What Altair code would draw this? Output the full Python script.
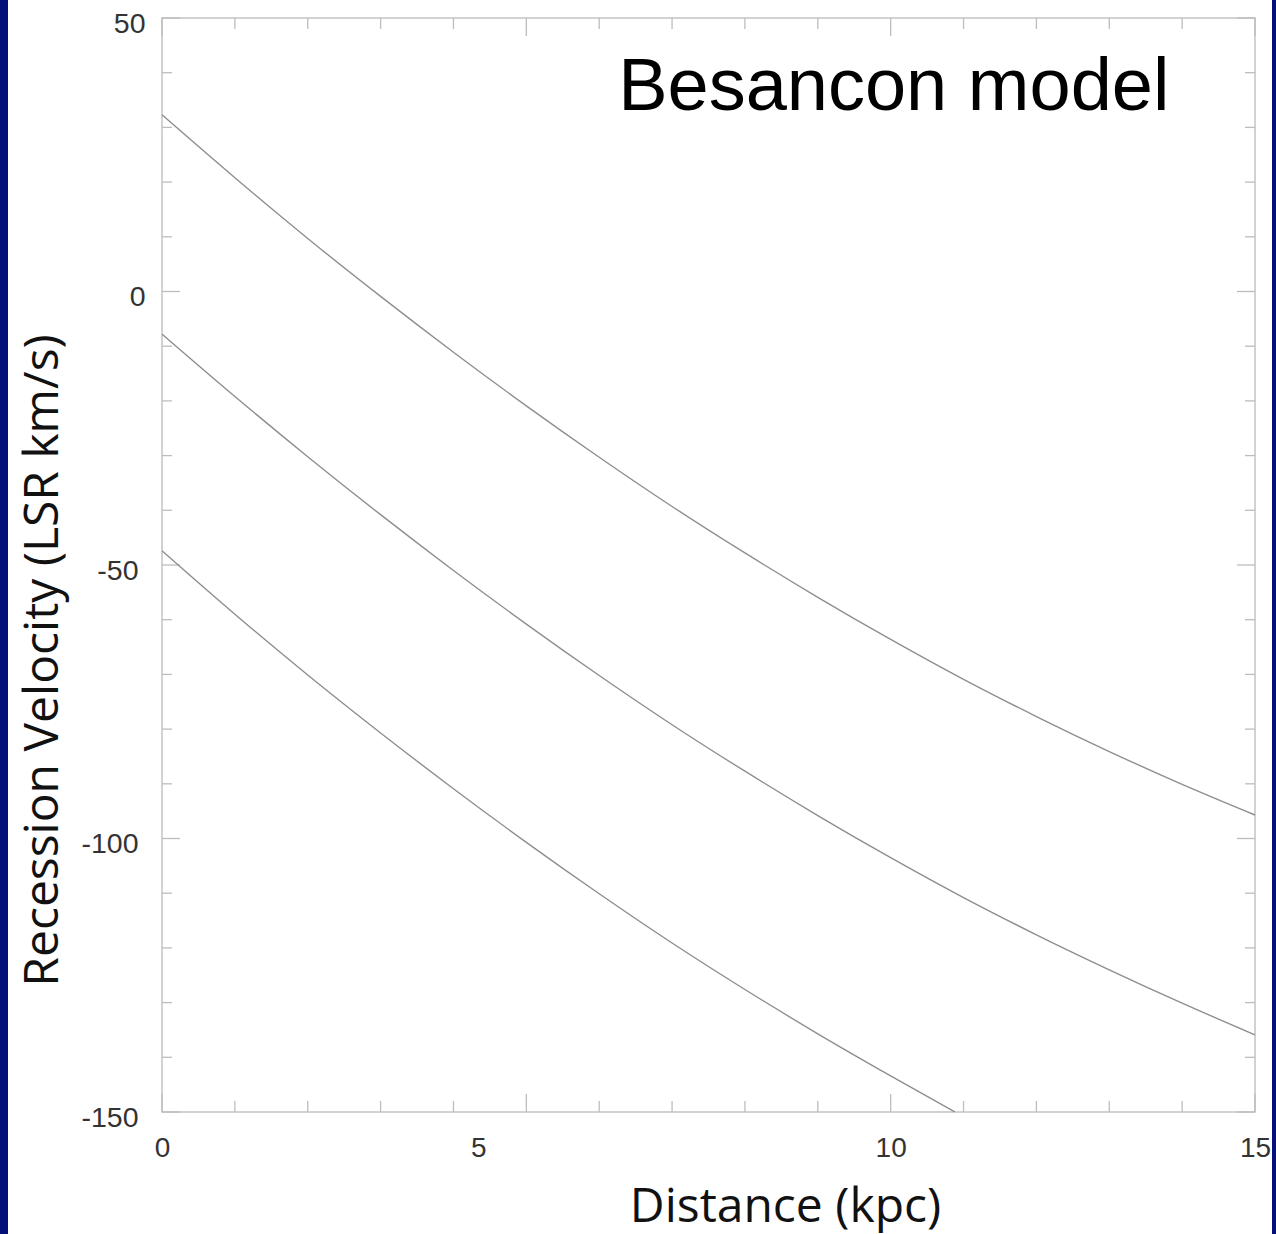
import altair as alt
import pandas as pd

# Distance along the line of sight (kpc) and model LSR velocities (km/s)
distance = [0, 1, 2, 3, 4, 5, 6, 7, 8, 9, 10, 11, 12, 13, 14, 15]
upper = [32.3, 20.8, 9.7, -0.9, -11.1, -20.9, -30.3, -39.3, -47.8, -55.9,
         -63.6, -70.9, -77.7, -84.1, -90.1, -95.7]
middle = [-7.8, -19.2, -30.2, -40.8, -51.0, -60.8, -70.2, -79.2, -87.7, -95.8,
          -103.5, -110.8, -117.6, -124.0, -130.1, -135.9]
lower_distance = [0, 1, 2, 3, 4, 5, 6, 7, 8, 9, 10, 10.88]
lower = [-47.4, -59.0, -70.1, -80.7, -90.9, -100.7, -110.1, -119.1, -127.6,
         -135.7, -143.4, -150.0]

# Axis ticks
x_major = [0, 5, 10, 15]
x_minor = [1, 2, 3, 4, 6, 7, 8, 9, 11, 12, 13, 14]
y_major = [-150, -100, -50, 0, 50]
y_minor = [-140, -130, -120, -110, -90, -80, -70, -60, -40, -30, -20, -10,
           10, 20, 30, 40]

# Annotation
note_text = ["Besancon model"]
note_x = [6.26]
note_y = [33.2]

W, H = 1093, 1094
NAVY = "#040f7a"
TICK = "#bdbdbd"
LINE = "#8e8e8e"

curves = pd.concat([
    pd.DataFrame({"d": distance, "v": upper, "s": "upper"}),
    pd.DataFrame({"d": distance, "v": middle, "s": "middle"}),
    pd.DataFrame({"d": lower_distance, "v": lower, "s": "lower"}),
])

xs = alt.Scale(domain=[0, 15], nice=False, zero=False)
ys = alt.Scale(domain=[-150, 50], nice=False, zero=False)

x_axis = alt.Axis(
    values=x_major, ticks=False, tickSize=0, domain=False, grid=False,
    labelExpr="'' + datum.value",
    labelFont="Liberation Sans", labelFontSize=28, labelColor="#333333",
    labelPadding=22, labelFlush=False, labelOverlap=False,
    labelOffset={"condition": {"test": "datum.value == 5", "value": -48}, "value": 0},
    title="Distance (kpc)", titleFont="Open Sans", titleFontSize=48,
    titleFontWeight="normal", titleColor="#111111",
    titleX=623, titleY=109, titleBaseline="alphabetic",
)
y_axis = alt.Axis(
    values=y_major, ticks=False, tickSize=0, domain=False, grid=False,
    labelExpr="'' + datum.value",
    labelFont="Liberation Sans", labelFontSize=28.5, labelColor="#333333",
    labelPadding={"condition": {"test": "datum.value < 0", "value": 24}, "value": 17},
    labelFlush=False, labelOverlap=False, labelOffset=5,
    labelAlign="right", labelBaseline="middle",
    title="Recession Velocity (LSR km/s)", titleFont="Open Sans",
    titleFontSize=48, titleFontWeight="normal", titleColor="#111111",
    titleAngle=270, titleX=-105, titleY=642, titleBaseline="alphabetic",
    titleAlign="center",
)

lines = alt.Chart(curves).mark_line(
    color=LINE, strokeWidth=1.4, interpolate="monotone"
).encode(
    x=alt.X("d:Q", scale=xs, axis=x_axis),
    y=alt.Y("v:Q", scale=ys, axis=y_axis),
    detail="s:N",
)


def xticks(values, length, top):
    df = pd.DataFrame({"t": values})
    y0, y1 = (0, length) if top else (H, H - length)
    return alt.Chart(df).mark_rule(color=TICK, strokeWidth=1.3).encode(
        x=alt.X("t:Q", scale=xs), y=alt.value(y0), y2=alt.value(y1)
    )


def yticks(values, length, right):
    df = pd.DataFrame({"t": values})
    x0, x1 = (W, W - length) if right else (0, length)
    return alt.Chart(df).mark_rule(color=TICK, strokeWidth=1.3).encode(
        y=alt.Y("t:Q", scale=ys), x=alt.value(x0), x2=alt.value(x1)
    )


tick_layers = [
    xticks(x_minor, 11, False), xticks(x_major, 18, False),
    xticks(x_minor, 11, True), xticks(x_major, 18, True),
    yticks(y_minor, 10, False), yticks(y_major, 18, False),
    yticks(y_minor, 10, True), yticks(y_major, 18, True),
]

note = alt.Chart(pd.DataFrame({"t": note_text, "x": note_x, "y": note_y})).mark_text(
    font="Liberation Sans", fontSize=74, color="black", align="left",
    baseline="alphabetic",
).encode(x=alt.X("x:Q", scale=xs), y=alt.Y("y:Q", scale=ys), text="t:N")

# Navy slide edges on the left and right
edge_data = alt.Data(values=[{"k": 1}])
left_edge = alt.Chart(edge_data).mark_rect(color=NAVY).encode(
    x=alt.value(-162), x2=alt.value(-154), y=alt.value(-18), y2=alt.value(1216)
)
right_edge = alt.Chart(edge_data).mark_rect(color=NAVY).encode(
    x=alt.value(1110), x2=alt.value(1114), y=alt.value(-18), y2=alt.value(1216)
)

chart = alt.layer(
    left_edge, right_edge, *tick_layers, lines, note
).properties(
    width=W, height=H,
    autosize=alt.AutoSizeParams(type="none"),
    padding={"left": 162, "top": 18, "right": 21, "bottom": 122},
    background="white",
).configure_view(
    stroke="#c4c4c4", strokeWidth=1.5
)

chart.save("out.html", embed_options={"renderer": "svg", "actions": False})
